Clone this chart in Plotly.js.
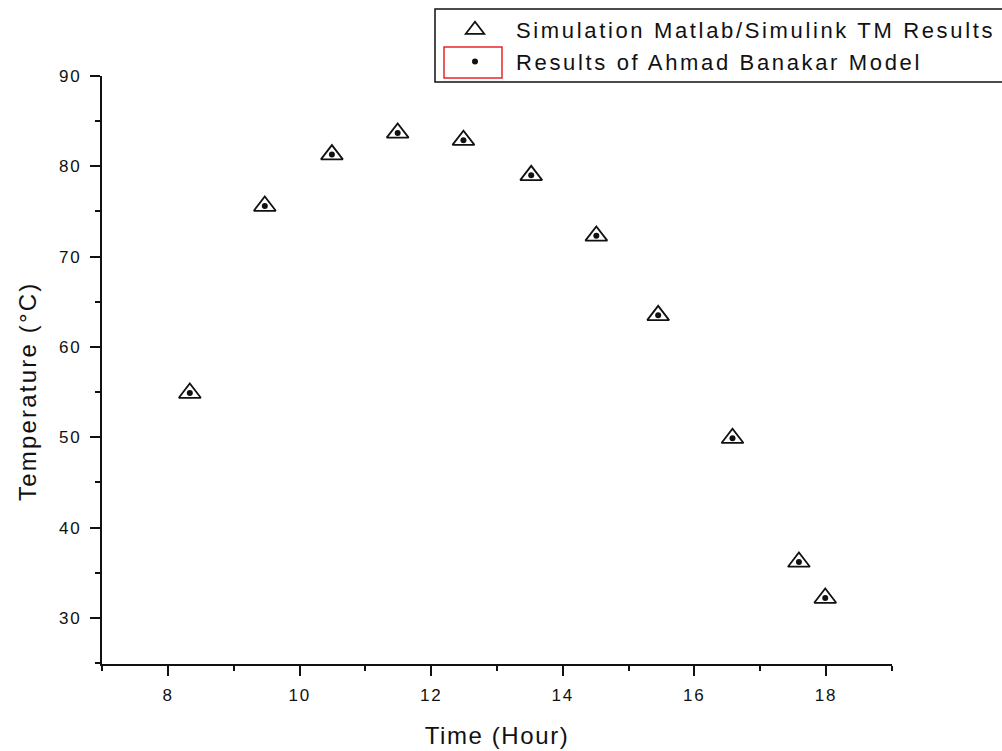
<!DOCTYPE html>
<html>
<head>
<meta charset="utf-8">
<script src="https://cdn.plot.ly/plotly-3.0.1.min.js"></script>
<style>
  html, body { margin: 0; padding: 0; background: #fff; overflow: hidden; }
  #chart { width: 1002px; height: 751px; }
  .legendtext { letter-spacing: 2.65px; }
  .xtick text, .ytick text { letter-spacing: 1.8px; }
  .g-xtitle text { letter-spacing: 1.6px; }
  .annotation-text { letter-spacing: 2.2px; }
</style>
</head>
<body>
<div id="chart"></div>
<script>
// ---- data ----
const timeHours = [8.33, 9.47, 10.49, 11.49, 12.49, 13.52, 14.51, 15.45, 16.58, 17.59, 17.99];
const simulinkTemp = [54.9, 75.6, 81.3, 83.7, 82.9, 79.0, 72.3, 63.5, 49.9, 36.2, 32.2];
const banakarTemp = [54.9, 75.6, 81.3, 83.7, 82.9, 79.0, 72.3, 63.5, 49.9, 36.2, 32.2];
const seriesNames = ["Simulation Matlab/Simulink TM Results", "Results of Ahmad Banakar Model"];
const xTitle = "Time (Hour)";
const yTitle = "Temperature (°C)";

// ---- layout geometry ----
const W = 1002, H = 751;
const M = { l: 102, r: 110, t: 76, b: 87 };
const PW = W - M.l - M.r, PH = H - M.t - M.b;
const px = x => (x - M.l) / PW;          // pixel -> paper x
const py = y => (H - M.b - y) / PH;      // pixel -> paper y

const font = "Liberation Sans, Arial, sans-serif";
const ink = "#111111";

const traces = [
  {
    x: timeHours, y: simulinkTemp, name: seriesNames[0],
    type: "scatter", mode: "markers",
    marker: { symbol: "triangle-up-open", size: 19, color: ink, line: { width: 1.8, color: ink } }
  },
  {
    x: timeHours, y: banakarTemp, name: seriesNames[1],
    type: "scatter", mode: "markers",
    marker: { symbol: "circle", size: 6, color: ink }
  }
];

const axisCommon = {
  showline: true, linecolor: ink, linewidth: 2,
  ticks: "outside", ticklen: 10, tickwidth: 2, tickcolor: ink,
  showgrid: false, zeroline: false, mirror: false,
  tickfont: { family: font, size: 17, color: ink }
};

const layout = {
  width: W, height: H,
  margin: { l: M.l, r: M.r, t: M.t, b: M.b, autoexpand: false },
  paper_bgcolor: "#fff", plot_bgcolor: "#fff",
  showlegend: true,
  xaxis: Object.assign({}, axisCommon, {
    range: [6.995, 19.005], dtick: 2, tick0: 0, ticklabelstandoff: 5,
    minor: { ticks: "outside", ticklen: 5, tickwidth: 2, tickcolor: ink, dtick: 1, showgrid: false },
    title: { text: xTitle, font: { family: font, size: 24, color: ink }, standoff: 23 }
  }),
  yaxis: Object.assign({}, axisCommon, {
    range: [24.9, 90], dtick: 10, tick0: 0, ticklabelstandoff: 5,
    minor: { ticks: "outside", ticklen: 5, tickwidth: 2, tickcolor: ink, dtick: 5, showgrid: false }
  }),
  annotations: [
    { text: yTitle, xref: "paper", yref: "paper", x: px(27), y: py(391),
      xanchor: "center", yanchor: "middle", textangle: -90, showarrow: false,
      font: { family: font, size: 24, color: ink } }
  ],
  legend: {
    x: px(434), y: py(9), xanchor: "left", yanchor: "top",
    bgcolor: "rgba(0,0,0,0)", borderwidth: 0,
    itemwidth: 72, itemsizing: "trace",
    font: { family: font, size: 22, color: ink },
    tracegroupgap: 0
  },
  shapes: [
    { type: "rect", xref: "paper", yref: "paper", layer: "below",
      x0: px(435), x1: px(1012), y0: py(82), y1: py(9),
      line: { color: ink, width: 1.5 }, fillcolor: "#fff" },
    { type: "rect", xref: "paper", yref: "paper", layer: "above",
      x0: px(444), x1: px(502), y0: py(78), y1: py(47),
      line: { color: "#e8262a", width: 1.5 }, fillcolor: "rgba(0,0,0,0)" }
  ]
};

Plotly.newPlot("chart", traces, layout, { displayModeBar: false, staticPlot: true });
</script>
</body>
</html>
